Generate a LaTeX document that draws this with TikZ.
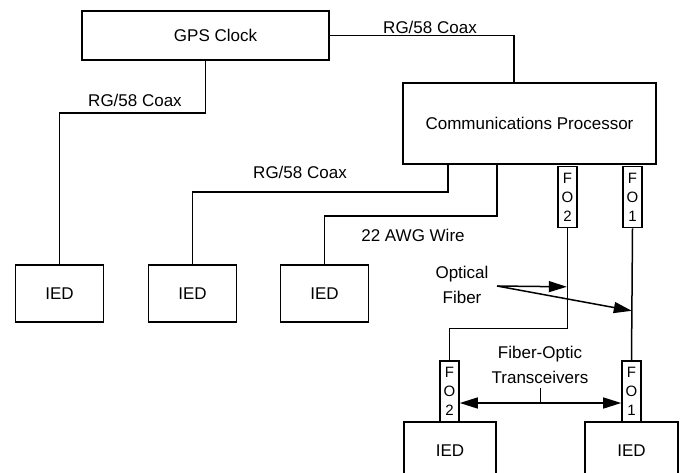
\documentclass[tikz,border=0pt]{standalone}
\usepackage{fontspec}
\setmainfont{Liberation Sans}
\usetikzlibrary{arrows.meta,calc}

\begin{document}
\begin{tikzpicture}[
  x=1pt,y=-1pt,
  font=\fontsize{17}{24.5}\selectfont,
  blk/.style={draw,line width=1.6pt,inner sep=0pt,align=center},
  ied/.style={blk,minimum width=88pt,minimum height=57pt},
  port/.style={blk,minimum width=19pt,minimum height=61pt,font=\fontsize{15}{19}\selectfont},
  wire/.style={line width=1.5pt},
  arr/.style={wire,-{Triangle[length=18pt,width=11pt]}},
  darr/.style={wire,{Triangle[length=18pt,width=11pt]}-{Triangle[length=18pt,width=11pt]}},
  lbl/.style={inner sep=2pt,align=center}
]
\useasboundingbox (0,0) rectangle (682,472);
\node[blk,minimum width=247pt,minimum height=49pt] (gps) at (205.5,35.5) {\hspace*{20pt}GPS Clock};
\node[blk,minimum width=253pt,minimum height=81pt] (cp) at (529.5,123.5) {Communications Processor};
\node[ied] (ied1) at (59.5,293.5) {IED};
\node[ied] (ied2) at (192.5,293.5) {IED};
\node[ied] (ied3) at (324.5,293.5) {IED};
\node[ied,minimum width=92pt] (ied4) at (450,450.5) {IED};
\node[ied,minimum width=93pt] (ied5) at (631.5,450.5) {IED};
\node[port] (fo2a) at (567.5,197) {F\\O\\2};
\node[port] (fo1a) at (632.5,197) {F\\O\\1};
\node[port] (fo2b) at (449.5,391.5) {F\\O\\2};
\node[port] (fo1b) at (631.5,391.5) {F\\O\\1};
% cable labels
\node[lbl] (coaxa) at (430,27) {RG/58 Coax};
\node[lbl] (coaxb) at (135,100) {RG/58 Coax};
\node[lbl] (coaxc) at (300,172) {RG/58 Coax};
\node[lbl] (awg) at (413,235) {22 AWG Wire};
\node[lbl] (optic) at (462,285) {Optical\\Fiber};
\node[lbl] (xcvr) at (540,365) {Fiber-Optic\\Transceivers};
% copper runs
\draw[wire] (gps.east) -| ([xshift=-15.5pt]cp.north);
\draw[wire] (gps.south) -- ++(0,52) -| (ied1.north);
\draw[wire] ([xshift=-81.5pt]cp.south) -- ++(0,27) -| (ied2.north);
\draw[wire] ([xshift=-32.5pt]cp.south) -- ++(0,51) -| (ied3.north);
% fiber runs
\draw[wire] (fo2a.south) -- ++(0,100) -| (fo2b.north);
\draw[wire] (fo1a.south) -- (fo1b.north);
\coordinate (ofsrc) at (497,286);
\coordinate (of2) at ([yshift=-58.5pt]fo2a.south);
\coordinate (of1) at ([yshift=-82.5pt]fo1a.south);
\draw[arr] (ofsrc) -- ([xshift=-0.7pt]of2);
\draw[arr] (ofsrc) -- ([xshift=-0.7pt]of1);
\draw[darr] ([yshift=-11.5pt]fo2b.east) -- ([yshift=-11.5pt]fo1b.west);
\draw[wire] ($([yshift=-11.5pt]fo2b.east)!0.5!([yshift=-11.5pt]fo1b.west)$) -- ++(0,-15);
\end{tikzpicture}
\end{document}
